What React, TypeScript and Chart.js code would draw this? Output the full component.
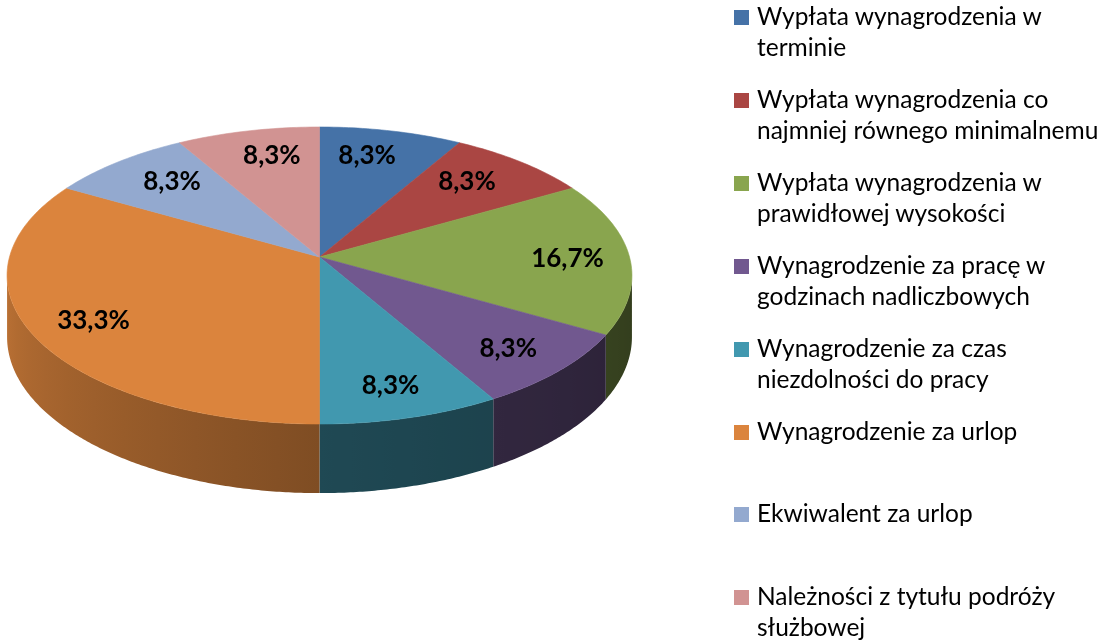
import React, { useEffect, useRef } from "react";
import { Chart, registerables } from "chart.js";

Chart.register(...registerables);

// ---- data ----
const categories: string[] = [
  "Wypłata wynagrodzenia w\nterminie",
  "Wypłata wynagrodzenia co\nnajmniej równego minimalnemu",
  "Wypłata wynagrodzenia w\nprawidłowej wysokości",
  "Wynagrodzenie za pracę w\ngodzinach nadliczbowych",
  "Wynagrodzenie za czas\nniezdolności do pracy",
  "Wynagrodzenie za urlop",
  "Ekwiwalent za urlop",
  "Należności z tytułu podróży\nsłużbowej",
];
const values: number[] = [1, 1, 2, 1, 1, 4, 1, 1];
const colors: string[] = [
  "#4572A7",
  "#AA4643",
  "#89A54E",
  "#71588F",
  "#4198AF",
  "#DB843D",
  "#93A9CF",
  "#D19392",
];

// ---- layout / style ----
const GEOM = {
  cx: 319.5,
  cy: 257,
  rx: 310,
  ry: 146.2,
  persp: 0.1246,
  depth: 60.5,
  labelR: 0.8,
};
const LABEL_FONT = "bold 26px Lato";
const LEGEND_FONT = "24.5px Lato";
const LEG_LEFT = 734;
const LEG_TOP = 0;
const LEG_STEP = 82.9;

function project(theta: number, f: number, z: number): [number, number] {
  const u = f * Math.sin(theta);
  const v = f * Math.cos(theta);
  const g = 1 / (1 + GEOM.persp * v);
  return [GEOM.cx + GEOM.rx * u * g, GEOM.cy - GEOM.ry * v * g + z * GEOM.depth * g];
}

function hexToRgb(h: string): number[] {
  const n = parseInt(h.slice(1), 16);
  return [(n >> 16) & 255, (n >> 8) & 255, n & 255];
}

function shade(h: string, k: number): string {
  const [r, g, b] = hexToRgb(h);
  return `rgb(${Math.round(r * k)},${Math.round(g * k)},${Math.round(b * k)})`;
}

function sideFactor(theta: number, startOfSlice: number): number {
  const deg = ((theta * 180) / Math.PI + 360) % 360;
  const sdeg = ((startOfSlice * 180) / Math.PI + 360) % 360;
  if (sdeg >= 179.9) {
    return Math.min(0.88, 0.58 + ((deg - 180) / 90) * 0.3);
  }
  return Math.max(0.3, 0.48 - ((180 - deg) / 90) * 0.12);
}

function silhouette(): [number, number] {
  let bestR = Math.PI / 2;
  let bestL = (3 * Math.PI) / 2;
  let maxX = -Infinity;
  let minX = Infinity;
  for (let d = 60; d <= 300; d += 0.1) {
    const t = (d * Math.PI) / 180;
    const x = project(t, 1, 0)[0];
    if (d < 180 && x > maxX) {
      maxX = x;
      bestR = t;
    }
    if (d > 180 && x < minX) {
      minX = x;
      bestL = t;
    }
  }
  return [bestR, bestL];
}

const pie3d = {
  id: "pie3d",
  beforeDatasetDraw(chart: any, args: any) {
    const ctx: CanvasRenderingContext2D = chart.ctx;
    const meta = chart.getDatasetMeta(args.index);
    const ds = chart.data.datasets[args.index];
    const total = (ds.data as number[]).reduce((a: number, b: number) => a + b, 0);
    const slices = meta.data.map((el: any, i: number) => {
      const p = el.getProps(["startAngle", "endAngle"], true);
      return {
        s: p.startAngle + Math.PI / 2,
        e: p.endAngle + Math.PI / 2,
        color: ds.backgroundColor[i],
        value: ds.data[i] as number,
      };
    });

    ctx.save();
    // side walls (front-facing part only)
    const [tR, tL] = silhouette();
    slices.forEach((sl: any) => {
      const a = Math.max(sl.s, tR);
      const b = Math.min(sl.e, tL);
      if (b <= a) return;
      const n = Math.max(2, Math.ceil((b - a) / (Math.PI / 360)));
      const pts: [number, number][] = [];
      for (let k = 0; k <= n; k++) pts.push(project(a + ((b - a) * k) / n, 1, 0));
      const bottom: [number, number][] = [];
      for (let k = n; k >= 0; k--) bottom.push(project(a + ((b - a) * k) / n, 1, 1));
      const xs = project(a, 1, 0)[0];
      const xe = project(b, 1, 0)[0];
      const grad = ctx.createLinearGradient(xs, 0, xe, 0);
      const m = 12;
      for (let k = 0; k <= m; k++) {
        const t = a + ((b - a) * k) / m;
        const x = project(t, 1, 0)[0];
        const pos = Math.min(1, Math.max(0, (x - xs) / (xe - xs)));
        grad.addColorStop(pos, shade(sl.color, sideFactor(t, sl.s)));
      }
      ctx.beginPath();
      ctx.moveTo(pts[0][0], pts[0][1]);
      pts.forEach((p) => ctx.lineTo(p[0], p[1]));
      bottom.forEach((p) => ctx.lineTo(p[0], p[1]));
      ctx.closePath();
      ctx.fillStyle = grad;
      ctx.fill();
    });

    // top face
    const c0 = project(0, 0, 0);
    slices.forEach((sl: any) => {
      ctx.beginPath();
      ctx.moveTo(c0[0], c0[1]);
      const n = Math.max(2, Math.ceil((sl.e - sl.s) / (Math.PI / 180)));
      for (let k = 0; k <= n; k++) {
        const t = sl.s + ((sl.e - sl.s) * k) / n;
        const p = project(t, 1, 0);
        ctx.lineTo(p[0], p[1]);
      }
      ctx.closePath();
      ctx.fillStyle = sl.color;
      ctx.strokeStyle = sl.color;
      ctx.lineWidth = 0.6;
      ctx.fill();
      ctx.stroke();
    });

    // percentage labels
    ctx.font = LABEL_FONT;
    ctx.fillStyle = "#000000";
    ctx.textAlign = "center";
    ctx.textBaseline = "middle";
    slices.forEach((sl: any) => {
      const mid = (sl.s + sl.e) / 2;
      const p = project(mid, GEOM.labelR, 0);
      const v = Math.cos(mid);
      const pull = 1 - 0.2 * Math.max(0, v) * Math.max(0, v);
      const x = GEOM.cx + (p[0] - GEOM.cx) * pull;
      const y = p[1] + (v < 0 ? -4 * v : 2);
      const pct = ((sl.value / total) * 100).toFixed(1).replace(".", ",") + "%";
      ctx.fillText(pct, x, y);
    });
    ctx.restore();
    return false;
  },
};

export default function App() {
  const ref = useRef<HTMLCanvasElement | null>(null);

  useEffect(() => {
    document.body.style.margin = "0";
    const canvas = ref.current;
    if (!canvas) return;
    const chart = new Chart(canvas, {
      type: "pie",
      data: {
        labels: categories,
        datasets: [{ data: values, backgroundColor: colors, borderWidth: 0 }],
      },
      options: {
        responsive: false,
        animation: false,
        events: [],
        plugins: { legend: { display: false }, tooltip: { enabled: false } },
      },
      plugins: [pie3d as any],
    });
    let cancelled = false;
    (document as any).fonts?.ready?.then(() => {
      if (!cancelled) chart.update();
    });
    return () => {
      cancelled = true;
      chart.destroy();
    };
  }, []);

  return (
    <div
      style={{
        position: "fixed",
        left: 0,
        top: 0,
        width: 1119,
        height: 643,
        background: "#ffffff",
        overflow: "hidden",
      }}
    >
      <canvas ref={ref} width={1119} height={643} style={{ position: "absolute", left: 0, top: 0 }} />
      <div style={{ position: "absolute", left: LEG_LEFT, top: 0 }}>
        {categories.map((c, i) => (
          <div
            key={i}
            style={{ position: "absolute", left: 0, top: LEG_TOP + i * LEG_STEP, display: "flex", width: 390 }}
          >
            <div style={{ width: 15, height: 15, background: colors[i], marginTop: 10, flex: "none" }} />
            <div
              style={{
                marginLeft: 8,
                whiteSpace: "pre",
                font: LEGEND_FONT,
                lineHeight: "31px",
                color: "#000000",
              }}
            >
              {c}
            </div>
          </div>
        ))}
      </div>
    </div>
  );
}
